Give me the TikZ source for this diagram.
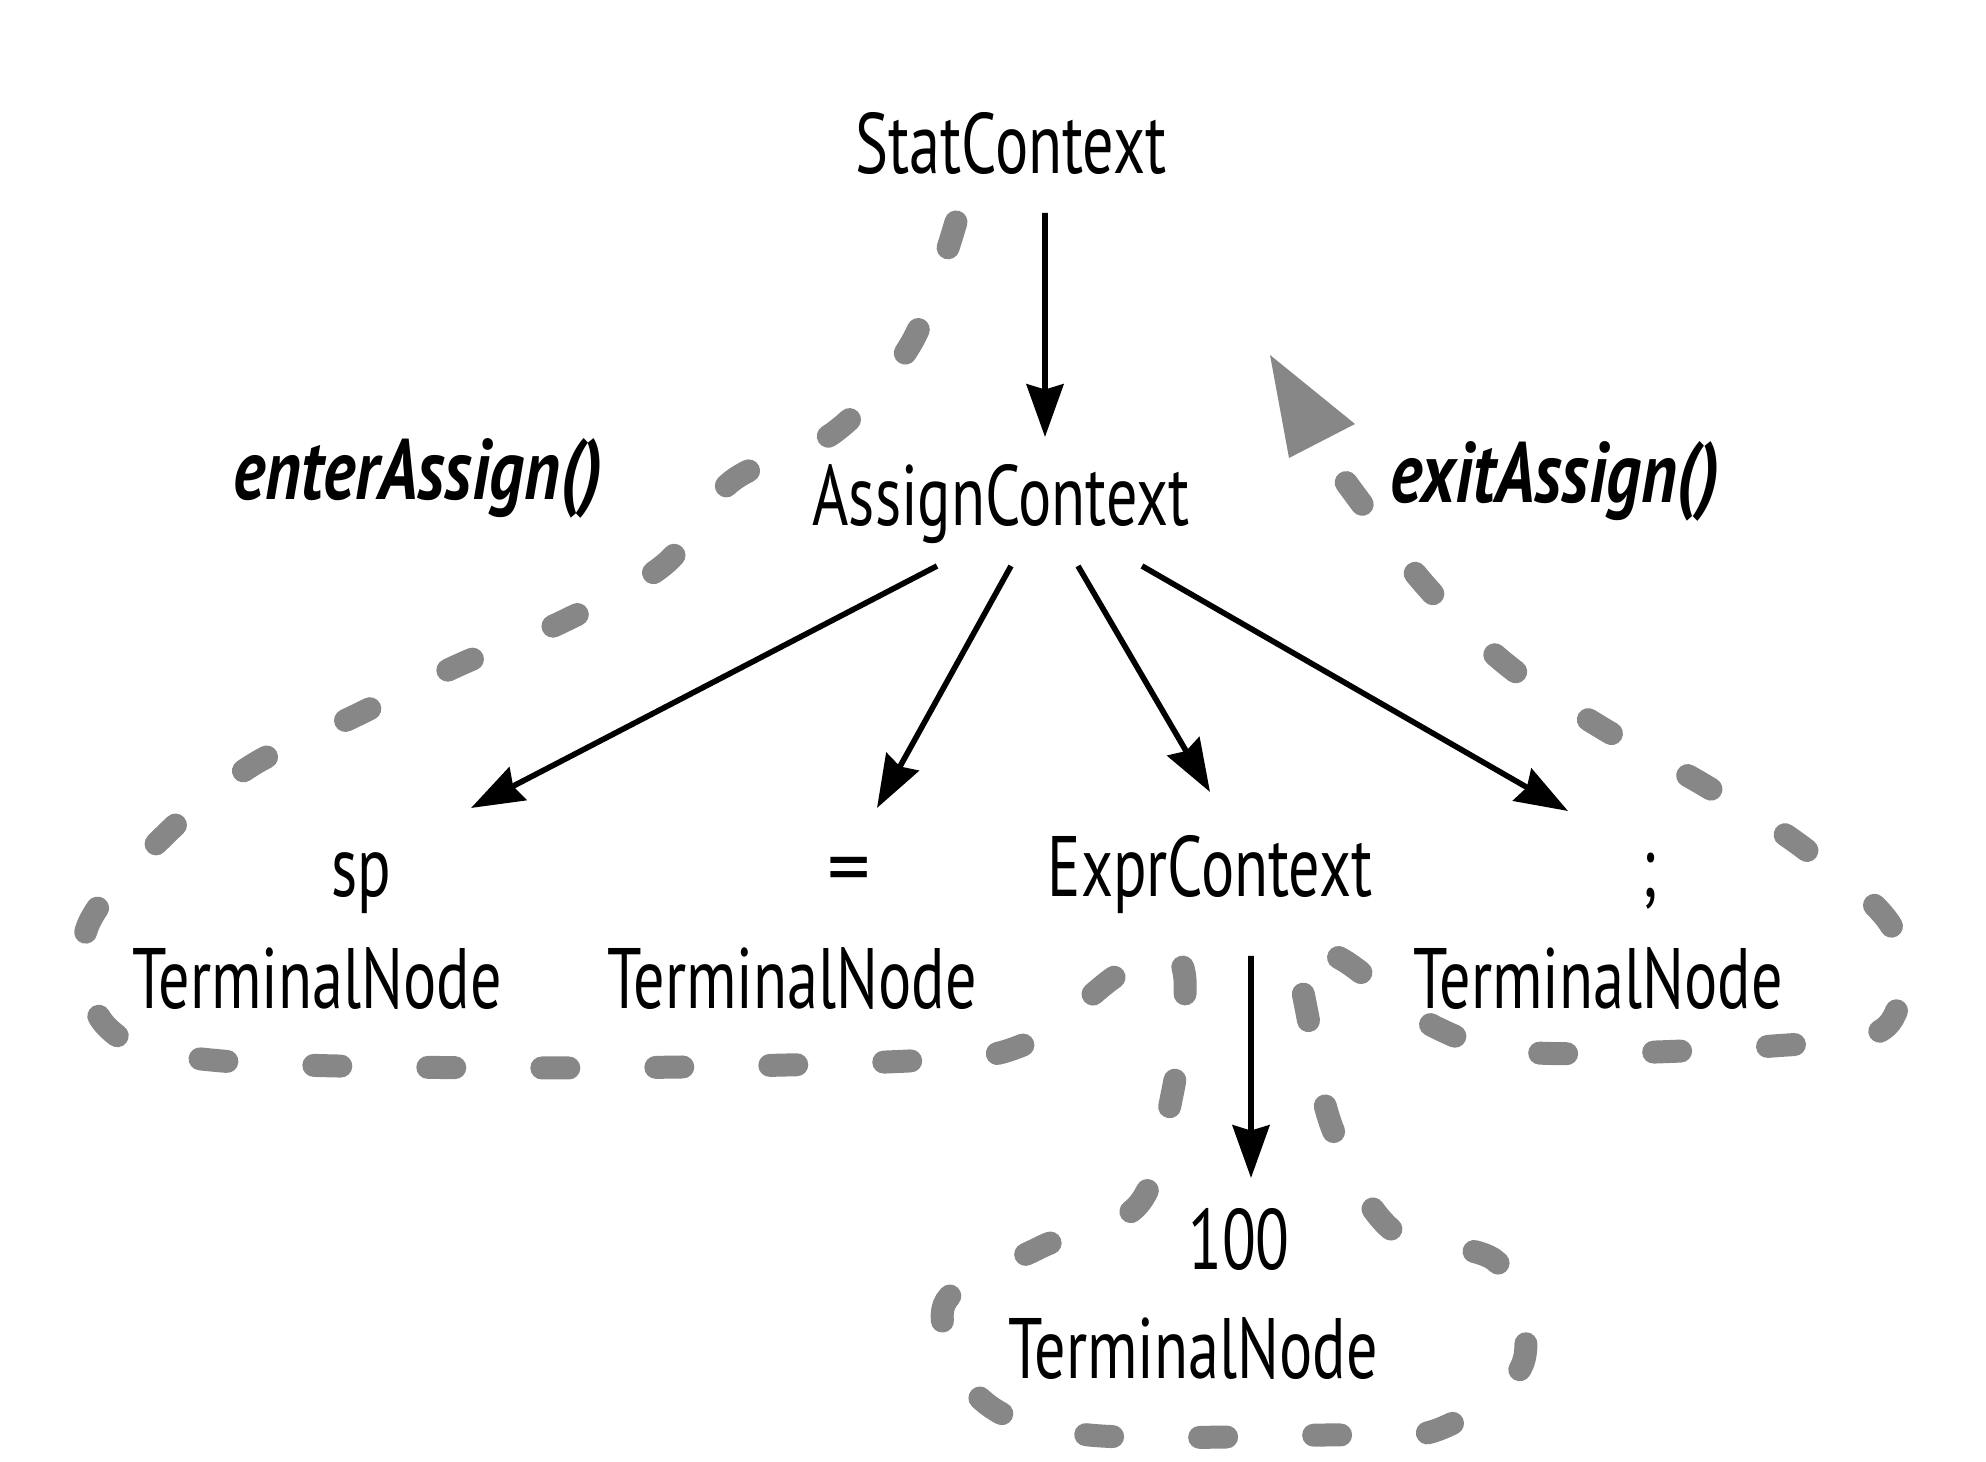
\documentclass[tikz,border=0pt]{standalone}
\usepackage{fontspec}
\setmainfont{PT Sans}[FakeStretch=0.725]
\newfontfamily\callfont{PT Sans}[FakeStretch=0.8]
\newfontfamily\plainfont{PT Sans}
\usetikzlibrary{arrows.meta, positioning}
\definecolor{walkgray}{RGB}{135,135,135}

\begin{document}
\begin{tikzpicture}[>={Stealth[length=15pt,width=10.5pt,inset=1.5pt]},
        every node/.style={inner sep=0pt, anchor=base, font=\fontsize{24.4}{29}\selectfont},
        link/.style={->, line width=1.6pt, black},
        call/.style={font=\fontsize{24.4}{29}\selectfont\callfont\bfseries\itshape},
        walk/.style={draw=walkgray, line width=0.23cm, line cap=round, dash pattern=on 0.27cm off 0.87cm}]

    \useasboundingbox (0,0) rectangle (19.86,-14.62);

      \node          (stat)   at (10.11,-1.74) {StatContext};
      \node          (assign) at (10.01,-5.26) {AssignContext};
      \node[call]    (enter)  at (4.18,-5.00)  {enterAssign()};
      \node[call]    (exit)   at (15.55,-5.03) {exitAssign()};

      \node          (sp)     at (3.61,-8.97)  {sp};
      \node          (spT)    [below=1.12cm of sp.base, anchor=base, xshift=-4.4mm] {TerminalNode};
      \node          (eq)     at (8.49,-8.97)  {\plainfont =};
      \node          (eqT)    [below=1.12cm of eq.base, anchor=base, xshift=-5.7mm] {TerminalNode};
      \node          (expr)   at (12.10,-8.97) {ExprContext};
      \node          (semi)   at (16.49,-8.97) {;};
      \node          (semiT)  [below=1.12cm of semi.base, anchor=base, xshift=-5.1mm] {TerminalNode};
      \node          (num)    at (12.39,-12.70) {100};
      \node          (numT)   [below=1.08cm of num.base, anchor=base, xshift=-4.6mm] {TerminalNode};

      % parse tree
      \draw[link] ([xshift=3.4mm,yshift=-3.9mm]stat.base) -- ([xshift=4.4mm,yshift=8.9mm]assign.base);
      \draw[link] ([xshift=-6.4mm,yshift=-4mm]assign.base) -- ([xshift=11mm,yshift=8.9mm]sp.base);
      \draw[link] ([xshift=1mm,yshift=-4mm]assign.base)   -- ([xshift=2.8mm,yshift=8.9mm]eq.base);
      \draw[link] ([xshift=7.7mm,yshift=-4mm]assign.base) -- ([yshift=10.5mm]expr.base);
      \draw[link] ([xshift=14.1mm,yshift=-4mm]assign.base) -- ([xshift=-8.1mm,yshift=8.6mm]semi.base);
      \draw[link] ([xshift=4.1mm,yshift=-5.9mm]expr.base) -- ([xshift=1.2mm,yshift=9.2mm]num.base);

      % walk around the AssignContext subtree
      \draw[walk] plot[smooth, tension=0.55] coordinates {
          (9.56,-2.22) (9.12,-3.42) (8.36,-4.31) (7.32,-4.81) (6.65,-5.64) (5.64,-6.21)
          (4.59,-6.65) (3.55,-7.16) (2.51,-7.66) (1.62,-8.38) (0.86,-9.31) (1.08,-10.28)
          (2.22,-10.61) (5.64,-10.68) (9.09,-10.61) (10.23,-10.45) (11.13,-9.78) (11.62,-9.48)
          (11.85,-9.80) (11.72,-10.95) (11.38,-12.05) (10.39,-12.48) (9.44,-13.05) (9.82,-14.00)
          (10.89,-14.35) (13.25,-14.35) (14.37,-14.30) (15.23,-13.63) (14.98,-12.63) (13.92,-12.30)
          (13.33,-11.30) (13.08,-10.18) (13.00,-9.50) (13.43,-9.60) (14.37,-10.28) (15.37,-10.53)
          (17.73,-10.46) (18.87,-10.26) (18.94,-9.31) (18.05,-8.49) (17.04,-7.85) (16.02,-7.28)
          (15.07,-6.65) (14.25,-5.85) (13.45,-4.81)};
      \fill[walkgray] (12.70,-3.55) -- (13.55,-4.24) -- (12.89,-4.58) -- cycle;
    \end{tikzpicture}
\end{document}
